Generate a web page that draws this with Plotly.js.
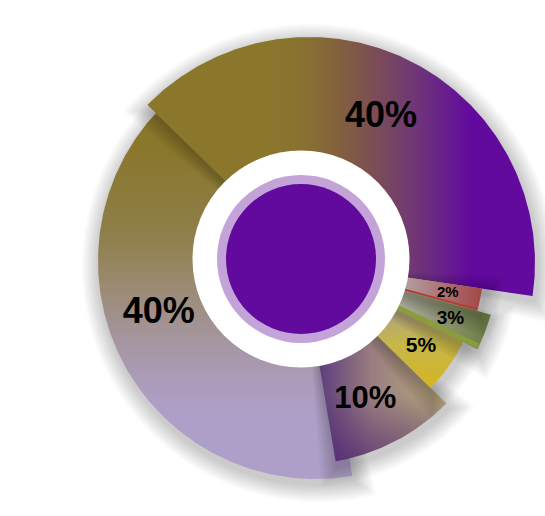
<!DOCTYPE html>
<html><head><meta charset="utf-8">
<script src="https://cdn.plot.ly/plotly-3.0.1.min.js"></script>
<style>html,body{margin:0;padding:0;background:#fff}#chart{width:545px;height:516px}</style>
</head><body><div id="chart"></div>
<script>
// ---- DATA (clockwise order, starting at the upper-left edge) ----
const categories = ['Slice A', 'Slice B', 'Slice C', 'Slice D', 'Slice E', 'Slice F'];
const values = [40, 2, 3, 5, 10, 40];

// ---- STYLE / LAYOUT (pixel-like data space: x 0..545, y 0..516 downwards) ----
const CENTER = {x: 301, y: 259};
const START_ANGLE = 135.6;           // degrees, slices run clockwise
const DRAW_ORDER = [5, 0, 4, 3, 2, 1];
const sliceStyle = [
  {dx: 8, dy: 4, r: 226, lr: 162, la: 0, fs: 36,
   grads: [{type: 'horizontal', start: 270, stop: 470,
            colorscale: [[0, '#8a772c'], [0.2, '#876f33'], [0.35, '#82603f'], [0.5, '#7c5052'], [0.65, '#74406a'], [0.82, '#6a2884'], [1, '#620a9e']]}]},
  {dx: 1, dy: 3, r: 182, lr: 149, la: 0, fs: 15, edge: {color: '#b0402c', width: 2, off: 0.5},
   grads: [{type: 'horizontal', start: 405, stop: 482,
            colorscale: [[0, '#b49ca0'], [1, '#a24646']]}]},
  {dx: 1, dy: 3, r: 196, lr: 159, la: 0, fs: 19, edge: {color: '#8c9c3a', width: 5, off: 1.0},
   grads: [{type: 'horizontal', start: 400, stop: 492,
            colorscale: [[0, '#aaa89a'], [1, '#6a7c40']]}]},
  {dx: 1, dy: 3, r: 180, lr: 146, la: 0, fs: 21,
   grads: [{type: 'vertical', start: 315, stop: 395,
            colorscale: [[0, '#b4a67c'], [0.35, '#c6b64a'], [1, '#d8b41a']]}]},
  {dx: 1, dy: 3, r: 202, lr: 152, la: -3, fs: 31,
   grads: [{type: 'horizontal', start: 320, stop: 450,
            colorscale: [[0, '#5e3e7c'], [0.4, '#9a7e80'], [1, '#b8ab78']]},
           {type: 'vertical', start: 395, stop: 462,
            colorscale: [[0, 'rgba(70,25,110,0)'], [1, 'rgba(70,25,110,0.6)']]}]},
  {dx: 15, dy: 2, r: 218, lr: 166, la: -9, fs: 36,
   grads: [{type: 'vertical', start: 150, stop: 420,
            colorscale: [[0, '#8a772c'], [0.3, '#8e7e48'], [0.5, '#9a8a70'], [0.68, '#a4949a'], [0.86, '#ab9cbc'], [1, '#ae9fc8']]}]}
];

const total = values.reduce((a, b) => a + b, 0);
const rad = d => d * Math.PI / 180;

function wedge(ax, ay, R, a0, a1) {
  const xs = [ax], ys = [ay];
  const n = Math.max(8, Math.ceil(Math.abs(a1 - a0) * 1.5));
  for (let i = 0; i <= n; i++) {
    const a = rad(a0 + (a1 - a0) * i / n);
    xs.push(ax + R * Math.cos(a));
    ys.push(ay - R * Math.sin(a));
  }
  xs.push(ax); ys.push(ay);
  return {xs, ys};
}

// angles from data
const spans = [];
let cum = 0;
values.forEach(v => {
  const a0 = START_ANGLE - cum / total * 360;
  cum += v;
  const a1 = START_ANGLE - cum / total * 360;
  spans.push([a0, a1]);
});

const traces = [];
const labX = [], labY = [], labT = [], labS = [];

DRAW_ORDER.forEach(i => {
  const st = sliceStyle[i];
  const [a0, a1] = spans[i];
  const ax = CENTER.x + st.dx, ay = CENTER.y + st.dy;
  // soft shadow layers
  for (let k = 1; k <= 9; k++) {
    const grow = k * 2.0;
    const da = grow / st.r * 180 / Math.PI;
    const w = wedge(ax + 2, ay + 5, st.r + grow, a0 + da, a1 - da);
    traces.push({type: 'scatter', mode: 'lines', x: w.xs, y: w.ys, fill: 'toself',
      fillcolor: 'rgba(0,0,0,0.022)', line: {width: 0}, hoverinfo: 'skip', showlegend: false});
  }
  // the slice with gradient fills
  const w = wedge(ax, ay, st.r, a0, a1);
  st.grads.forEach(g => {
    traces.push({type: 'scatter', mode: 'lines', x: w.xs, y: w.ys, fill: 'toself',
      fillcolor: g.colorscale[g.colorscale.length - 1][1],
      fillgradient: g, line: {width: 0}, hoverinfo: 'skip', showlegend: false,
      name: categories[i]});
  });
  if (st.edge) {
    const ae = a1 + st.edge.off;
    traces.push({type: 'scatter', mode: 'lines',
      x: [ax + 100 * Math.cos(rad(ae)), ax + (st.r - 1) * Math.cos(rad(ae))],
      y: [ay - 100 * Math.sin(rad(ae)), ay - (st.r - 1) * Math.sin(rad(ae))],
      line: {color: st.edge.color, width: st.edge.width}, hoverinfo: 'skip', showlegend: false});
  }
  const mid = rad((a0 + a1) / 2 + st.la);
  labX.push(ax + st.lr * Math.cos(mid));
  labY.push(ay - st.lr * Math.sin(mid));
  labT.push(Math.round(values[i] / total * 100) + '%');
  labS.push(st.fs);
});

traces.push({type: 'scatter', mode: 'text', x: labX, y: labY, text: labT,
  textposition: 'middle center',
  textfont: {family: 'Liberation Sans, Arial, sans-serif', size: labS, color: '#000', weight: 'bold'},
  hoverinfo: 'skip', showlegend: false});

const circ = (r, color) => ({type: 'circle', xref: 'x', yref: 'y', layer: 'above',
  x0: CENTER.x - r, x1: CENTER.x + r, y0: CENTER.y - r, y1: CENTER.y + r,
  fillcolor: color, line: {width: 0}});

const layout = {
  width: 545, height: 516,
  margin: {l: 0, r: 0, t: 0, b: 0},
  paper_bgcolor: '#fff', plot_bgcolor: '#fff',
  showlegend: false,
  xaxis: {range: [0, 545], visible: false, fixedrange: true},
  yaxis: {range: [516, 0], visible: false, fixedrange: true},
  shapes: [circ(108.5, '#ffffff'), circ(84, '#c4a4d8'), circ(75, '#620a9e')]
};

Plotly.newPlot('chart', traces, layout, {staticPlot: true, displayModeBar: false});
</script>
</body></html>
